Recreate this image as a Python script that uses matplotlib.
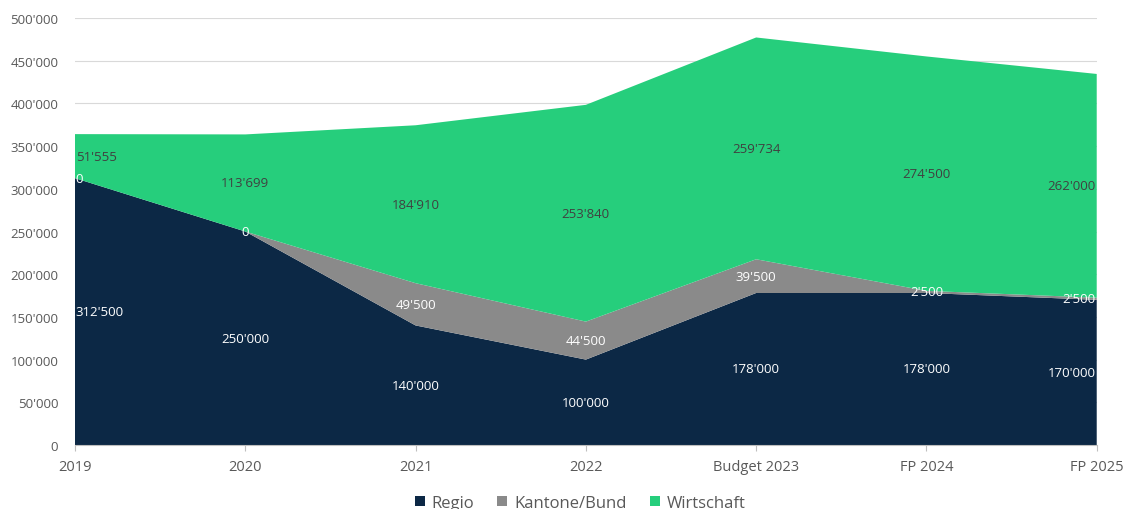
import numpy as np
import matplotlib.pyplot as plt
from matplotlib.ticker import FuncFormatter
from matplotlib.patches import Patch

# data
years = ["2019", "2020", "2021", "2022", "Budget 2023", "FP 2024", "FP 2025"]
regio = [312500, 250000, 140000, 100000, 178000, 178000, 170000]
kantone_bund = [0, 0, 49500, 44500, 39500, 2500, 2500]
wirtschaft = [51555, 113699, 184910, 253840, 259734, 274500, 262000]

series_names = ["Regio", "Kantone/Bund", "Wirtschaft"]
colors = ["#0C2845", "#8A8A8A", "#26CE7C"]
label_colors = ["white", "white", "#404040"]

plt.rcParams['font.family'] = ['Open Sans', 'DejaVu Sans']


def swiss(v, pos=None):
    return f"{int(v):,}".replace(",", "'")


fig = plt.figure(figsize=(11.26, 5.10), dpi=100)
ax = fig.add_axes([0.0666, 0.1255, 0.9074, 0.8372])

x = np.arange(len(years))
data = np.array([regio, kantone_bund, wirtschaft])
ax.stackplot(x, data, colors=colors, zorder=2, linewidth=0)

# data labels in the middle of each band
bottoms = np.zeros(len(years))
for vals, lc in zip(data, label_colors):
    for i, v in enumerate(vals):
        y = bottoms[i] + v / 2
        ha = "center"
        xo = x[i]
        if i == 0:
            ha = "left"
            xo = x[i] + 0.005
        elif i == len(years) - 1:
            ha = "right"
            xo = x[i] - 0.005
        ax.text(xo, y, swiss(v), ha=ha, va="center", color=lc,
                fontsize=9.5, zorder=5)
    bottoms = bottoms + vals

ax.set_xlim(0, len(years) - 1)
ax.set_ylim(0, 500000)
ax.set_yticks(np.arange(0, 500001, 50000))
ax.yaxis.set_major_formatter(FuncFormatter(swiss))
ax.set_xticks(x)
ax.set_xticklabels(years)

ax.grid(axis="y", color="#D9D9D9", linewidth=0.8, zorder=0)
ax.set_axisbelow(True)
for s in ["top", "right", "left"]:
    ax.spines[s].set_visible(False)
ax.spines["bottom"].set_color("#BFBFBF")
ax.tick_params(axis="y", length=0, labelsize=9.5, labelcolor="#595959", pad=12)
ax.tick_params(axis="x", length=4, color="#BFBFBF", labelsize=10.5,
               labelcolor="#595959", pad=6)

handles = [Patch(facecolor=c, label=n) for c, n in zip(colors, series_names)]
fig.legend(handles=handles, loc="center", bbox_to_anchor=(0.515, 0.012),
           ncol=3, frameon=False, fontsize=12, handlelength=0.6,
           handleheight=0.6, handletextpad=0.4, columnspacing=1.4,
           labelcolor="#595959")

fig.savefig("out.png", dpi=100)
